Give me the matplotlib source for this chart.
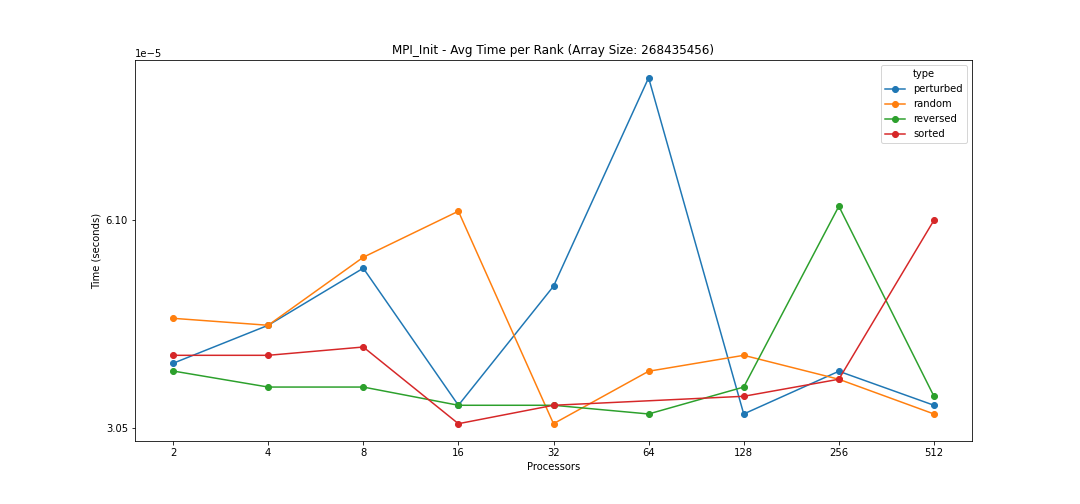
import numpy as np
import matplotlib

matplotlib.use("Agg")
import matplotlib.pyplot as plt
from matplotlib.ticker import ScalarFormatter, FixedLocator


processors = [2, 4, 8, 16, 32, 64, 128, 256, 512]
types = ["perturbed", "random", "reversed", "sorted"]

# avg MPI_Init time per rank, seconds
perturbed = [3.786e-5, 4.297e-5, 5.197e-5, 3.292e-5, 4.894e-5, 9.799e-5, 3.198e-5, 3.687e-5, 3.292e-5]
random_ = [4.398e-5, 4.297e-5, 5.390e-5, 6.283e-5, 3.096e-5, 3.687e-5, 3.888e-5, 3.590e-5, 3.198e-5]
reversed_ = [3.690e-5, 3.498e-5, 3.498e-5, 3.292e-5, 3.292e-5, 3.198e-5, 3.498e-5, 6.388e-5, 3.392e-5]
sorted_ = [3.888e-5, 3.888e-5, 3.997e-5, 3.096e-5, 3.292e-5, np.nan, 3.392e-5, 3.590e-5, 6.097e-5]

series = [perturbed, random_, reversed_, sorted_]
colors = ["#1f77b4", "#ff7f0e", "#2ca02c", "#d62728"]


def main():
    fig = plt.figure(figsize=(15, 7), dpi=72)
    ax = fig.add_axes([0.125, 0.125, 0.775, 0.755])

    for name, values, color in zip(types, series, colors):
        x = np.array(processors, dtype=float)
        y = np.array(values, dtype=float)
        keep = ~np.isnan(y)
        ax.plot(x[keep], y[keep], marker="o", markersize=6, linewidth=1.5,
                color=color, label=name)

    ax.set_xscale("log", base=2)
    ax.set_yscale("log", base=2)
    ax.xaxis.set_major_locator(FixedLocator(processors))
    ax.xaxis.set_major_formatter(ScalarFormatter())
    ax.xaxis.set_minor_locator(FixedLocator([]))
    ax.yaxis.set_major_formatter(ScalarFormatter())
    ax.yaxis.set_minor_locator(FixedLocator([]))

    ax.set_xlabel("Processors")
    ax.set_ylabel("Time (seconds)")
    ax.set_title("MPI_Init - Avg Time per Rank (Array Size: 268435456)")
    ax.legend(title="type", loc="upper right")

    fig.savefig("out.png", dpi=72)
    plt.close(fig)


if __name__ == "__main__":
    main()
